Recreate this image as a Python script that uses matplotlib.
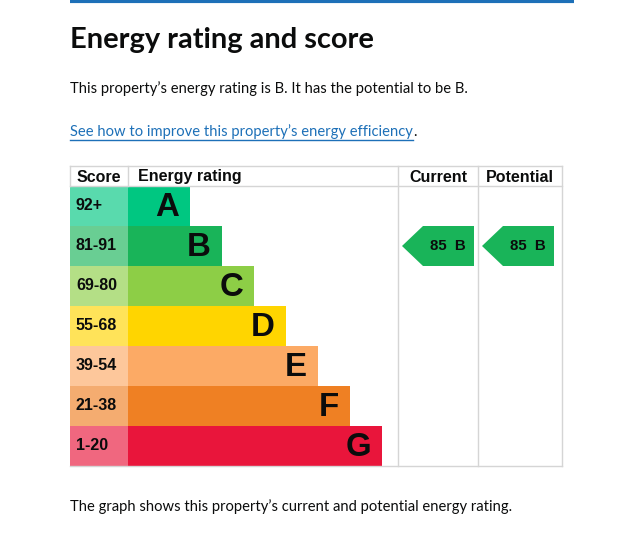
import matplotlib
matplotlib.use("Agg")
import matplotlib.pyplot as plt
from matplotlib.patches import Rectangle, Polygon

# data
bands = ["A", "B", "C", "D", "E", "F", "G"]
score_ranges = ["92+", "81-91", "69-80", "55-68", "39-54", "21-38", "1-20"]
band_lows = [92, 81, 69, 55, 39, 21, 1]
band_colors = ["#00c781", "#19b459", "#8dce46", "#ffd500", "#fcaa65", "#ef8023", "#e9153b"]
current_score = 85
potential_score = 85
headers = ["Score", "Energy rating", "Current", "Potential"]

W, H = 620, 539
fig = plt.figure(figsize=(W / 100, H / 100), dpi=100)
ax = fig.add_axes([0, 0, 1, 1])
ax.set_xlim(0, W)
ax.set_ylim(H, 0)
ax.axis("off")

px = 0.72  # px -> pt at 100 dpi
body = "Lato"
table_font = "Liberation Sans"
ink = "#0b0c0c"
link = "#1d70b8"
grid = "#d5d5d5"
bsize = 14.8 * px

# blue rule at top
ax.plot([70, 574], [1, 1], color=link, lw=3, solid_capstyle="butt")

ax.text(70, 48, "Energy rating and score", fontsize=29 * px, fontweight="bold",
        family=body, color=ink, va="baseline")
ax.text(70, 93, "This property\u2019s energy rating is B. It has the potential to be B.",
        fontsize=bsize, family=body, color=ink, va="baseline")
t = ax.text(70, 136, "See how to improve this property\u2019s energy efficiency",
            fontsize=bsize, family=body, color=link, va="baseline")
fig.canvas.draw()
bb = t.get_window_extent().transformed(ax.transData.inverted())
ax.plot([70, bb.x1], [140, 140], color=link, lw=1)
ax.text(bb.x1, 136, ".", fontsize=bsize, family=body, color=ink, va="baseline")
ax.text(70, 511, "The graph shows this property\u2019s current and potential energy rating.",
        fontsize=bsize, family=body, color=ink, va="baseline")

# table geometry
x_score, x_bar, x_cur, x_pot, x_end = 70, 128, 398, 478, 562
top, head_h, row_h = 166, 20, 40
step = 32

# header
hy = top + head_h / 2
ax.text(x_score + 7, hy + 1, headers[0], fontsize=16 * px, fontweight="bold",
        family=table_font, va="center", color=ink)
ax.text(x_bar + 10, hy + 1, headers[1], fontsize=16 * px, fontweight="bold",
        family=table_font, va="center", color=ink)
ax.text((x_cur + x_pot) / 2, hy + 1, headers[2], fontsize=16 * px, fontweight="bold",
        family=table_font, va="center", ha="center", color=ink)
ax.text((x_pot + x_end) / 2, hy + 1, headers[3], fontsize=16 * px, fontweight="bold",
        family=table_font, va="center", ha="center", color=ink)

# bands
for i, (b, s, c) in enumerate(zip(bands, score_ranges, band_colors)):
    y0 = top + head_h + i * row_h
    ax.add_patch(Rectangle((x_score, y0), x_bar - x_score, row_h, facecolor=c,
                           alpha=0.65, edgecolor="none"))
    bar_end = x_bar + step * (i + 2) - 2
    ax.add_patch(Rectangle((x_bar, y0), bar_end - x_bar, row_h, facecolor=c,
                           edgecolor="none"))
    ax.text(x_score + 6, y0 + row_h / 2, s, fontsize=16 * px, fontweight="bold",
            family=table_font, va="center", color=ink)
    ax.text(bar_end - 11, y0 + row_h / 2 + 2, b, fontsize=33 * px, fontweight="bold",
            family=table_font, va="center", ha="right", color=ink)

bottom = top + head_h + len(bands) * row_h

# grid lines
ax.plot([x_score, x_end], [top, top], color=grid, lw=1)
ax.plot([x_score, x_end], [top + head_h, top + head_h], color=grid, lw=1)
ax.plot([x_score, x_end], [bottom, bottom], color=grid, lw=1)
ax.plot([x_score, x_score], [top, top + head_h], color=grid, lw=1)
ax.plot([x_bar, x_bar], [top, top + head_h], color=grid, lw=1)
for xv in (x_cur, x_pot, x_end):
    ax.plot([xv, xv], [top, bottom], color=grid, lw=1)


def band_of(score):
    for i, lo in enumerate(band_lows):
        if score >= lo:
            return i
    return len(band_lows) - 1


def arrow(x0, x1, score):
    i = band_of(score)
    y0 = top + head_h + i * row_h
    pts = [(x0, y0 + row_h / 2), (x0 + 21, y0), (x1, y0), (x1, y0 + row_h),
           (x0 + 21, y0 + row_h)]
    ax.add_patch(Polygon(pts, closed=True, facecolor=band_colors[i], edgecolor="none"))
    ax.text((x0 + 21 + x1) / 2 - 1, y0 + row_h / 2, f"{score}  {bands[i]}",
            fontsize=15 * px, fontweight="bold", family=table_font,
            va="center", ha="center", color=ink)


arrow(x_cur + 4, x_pot - 4, current_score)
arrow(x_pot + 4, x_end - 8, potential_score)

fig.savefig("out.png", dpi=100)
